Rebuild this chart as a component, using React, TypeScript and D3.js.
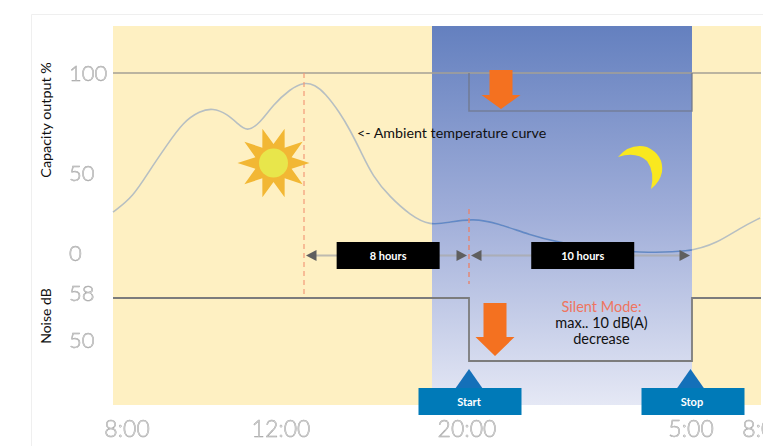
import React from "react";
import * as d3 from "d3";

const W = 763;
const H = 446;

// Data
const curveHours = [8, 8.42, 8.77, 9.13, 9.47, 9.82, 10.09, 10.39, 10.62, 10.81, 11.08, 11.35, 11.71, 12, 12.53, 13.02, 13.75, 14.23, 14.72, 15.35, 16.17, 17.14, 18.11, 19.08, 20.16, 21.13, 22.46, 23.55, 25.3, 26.8, 28.9, 30.09, 31.09, 31.96];
const curveCapacity = [25.6, 35, 51.5, 64, 75.5, 81, 82.5, 79.5, 74.5, 70.5, 75, 84, 92, 95.5, 94, 90, 80, 71.5, 61.5, 47.5, 35, 23.75, 17, 19.4, 21.5, 18.75, 11.25, 6.9, 1.9, 0.4, 0.4, 6.25, 15.6, 21.9];
const capacityHours = [20, 20, 29, 29];
const capacityValues = [100, 81, 81, 100];
const noiseHours = [8, 20, 20, 29, 29, 32];
const noiseValues = [58, 58, 48, 48, 58, 58];
const capacityTicks = [100, 50, 0];
const noiseTicks = [58, 50];
const timeTicks = [8, 12, 20, 29, 32];
const timeLabels = ["8:00", "12:00", "20:00", "5:00", "8:00"];
const spans = [
  { from: 12, to: 20, label: "8 hours" },
  { from: 20, to: 29, label: "10 hours" },
];
const markers = [
  { hour: 20, label: "Start" },
  { hour: 29, label: "Stop" },
];

// Scales (the original is a schematic, so they are piecewise)
const x = d3.scaleLinear().domain([8, 12, 20, 29, 32]).range([113, 304, 469, 692, 761]);
const xLabel = d3.scaleLinear().domain([8, 12, 20, 29, 32]).range([127, 281, 467, 691, 765]);
const yCap = d3.scaleLinear().domain([0, 50, 100]).range([253, 173, 73]);
const yNoise = d3.scaleLinear().domain([48, 50, 58]).range([361, 340, 298]);

const curvePath = d3.line<number>()
  .x((h) => x(h))
  .y((_, i) => yCap(curveCapacity[i]))
  .curve(d3.curveBasis)(curveHours) as string;
const capPath = d3.line<number>().x((h) => x(h)).y((_, i) => yCap(capacityValues[i]))(capacityHours) as string;
const noisePath = d3.line<number>().x((h) => x(h)).y((_, i) => yNoise(noiseValues[i]))(noiseHours) as string;

const sunRays = d3.lineRadial<number>()
  .angle((_, i) => Math.PI / 2 + (i * Math.PI) / 10)
  .radius((_, i) => (i % 2 === 0 ? 36 : 19))
  .curve(d3.curveLinearClosed)(d3.range(20)) as string;

const FONT = "Lato, 'Open Sans', sans-serif";
const TICK = { fill: "#e4e4e4", stroke: "#a0a0a0", strokeWidth: 0.5, fontFamily: FONT, fontWeight: 300, fontSize: 22, filter: "url(#soft)" } as const;

function DownArrow({ cx, top, neck, tip }: { cx: number; top: number; neck: number; tip: number }) {
  return (
    <path
      d={`M${cx - 11.5},${top}H${cx + 11.5}V${neck}H${cx + 19.5}L${cx},${tip}L${cx - 19.5},${neck}H${cx - 11.5}Z`}
      fill="#f47120"
    />
  );
}

export default function App() {
  return (
    <svg width={W} height={H} style={{ position: "absolute", left: 0, top: 0, background: "#fff" }}>
      <defs>
        <linearGradient id="night" x1="0" y1="0" x2="0" y2="1">
          <stop offset="0" stopColor="#6480bf" />
          <stop offset="0.5" stopColor="#a0aed9" />
          <stop offset="1" stopColor="#e5e8f5" />
        </linearGradient>
        <clipPath id="nightClip">
          <rect x={432} y={26} width={260} height={379} />
        </clipPath>
        <filter id="soft" x="-10%" y="-10%" width="120%" height="120%">
          <feGaussianBlur stdDeviation="0.35" />
        </filter>
      </defs>

      {/* frame */}
      <path d="M31.5,446V14.5H763" fill="none" stroke="#efefef" />

      {/* day / night bands */}
      <rect x={113} y={26} width={648} height={379} fill="#fef0c2" />
      <rect x={432} y={26} width={260} height={379} fill="url(#night)" />

      {/* ambient curve */}
      <path d={curvePath} fill="none" stroke="#b7bfc2" strokeWidth={1.6} />
      <path d={curvePath} fill="none" stroke="#6288c8" strokeWidth={1.6} clipPath="url(#nightClip)" />

      {/* full capacity and noise lines */}
      <path d={`M${x(8)},${yCap(100)}H${x(32)}`} fill="none" stroke="#a5a195" strokeWidth={1.3} />
      <path d={capPath} fill="none" stroke="#6f7587" strokeOpacity={0.75} strokeWidth={1.6} />
      <path d={noisePath} fill="none" stroke="#7c7c7c" strokeWidth={1.8} />

      {/* dashed guides */}
      <line x1={x(12)} x2={x(12)} y1={73} y2={298} stroke="#f29a78" strokeWidth={1.2} strokeDasharray="5 4" />
      <line x1={x(20)} x2={x(20)} y1={209} y2={284} stroke="#e5846f" strokeWidth={1.4} strokeDasharray="5 4" />

      {/* duration spans */}
      {spans.map((s) => {
        const a = x(s.from);
        const b = x(s.to);
        const c = a + (b - a) * 0.51;
        return (
          <g key={s.label}>
            <line x1={a + 10} x2={b - 10} y1={255.5} y2={255.5} stroke="#a9a9a9" strokeOpacity={0.75} strokeWidth={2} />
            <path d={`M${a + 2},255.5L${a + 12.5},250V261Z`} fill="#5f5f5f" />
            <path d={`M${b - 2},255.5L${b - 12.5},250V261Z`} fill="#5f5f5f" />
            <rect x={c - 51.5} y={242} width={103} height={27} fill="#000" />
            <text x={c} y={259.5} textAnchor="middle" fill="#fff" fontFamily={FONT} fontWeight={700} fontSize={11}>{s.label}</text>
          </g>
        );
      })}

      {/* sun */}
      <g transform="translate(273.5,163)">
        <path d={sunRays} fill="#f2b734" />
        <circle r={14.5} fill="#e8e64b" />
      </g>

      {/* moon */}
      <path d="M618,157Q630,143 647,147Q664,155 662,172Q660,182 651,189Q655,172 647,161Q636,151 618,157Z" fill="#f9e81f" />

      {/* arrows */}
      <DownArrow cx={501} top={70} neck={95} tip={109} />
      <DownArrow cx={495} top={303} neck={337} tip={356} />

      {/* annotations */}
      <text x={357} y={138} fill="#111" fontFamily={FONT} fontSize={14.25}>{"<- Ambient temperature curve"}</text>
      <g textAnchor="middle" fontFamily={FONT} fontSize={14.5}>
        <text x={601.5} y={312} fill="#ef7560">Silent Mode:</text>
        <text x={601.5} y={328} fill="#111">max.. 10 dB(A)</text>
        <text x={601.5} y={344} fill="#111">decrease</text>
      </g>

      {/* start / stop */}
      {markers.map((m) => {
        const tipX = x(m.hour) - (m.hour === 29 ? 1.5 : 0);
        const boxX = x(m.hour) + 1;
        return (
          <g key={m.label}>
            <path d={`M${tipX},369L${tipX + 14},389H${tipX - 14}Z`} fill="#1470b9" />
            <rect x={boxX - 51.5} y={388} width={103} height={27} fill="#007ab8" />
            <text x={boxX - 1} y={405.5} textAnchor="middle" fill="#fff" fontFamily={FONT} fontWeight={700} fontSize={11}>{m.label}</text>
          </g>
        );
      })}

      {/* axis titles */}
      <text transform="translate(51,120) rotate(-90)" textAnchor="middle" fill="#111" fontFamily={FONT} fontSize={14.3}>Capacity output %</text>
      <text transform="translate(51,316) rotate(-90)" textAnchor="middle" fill="#111" fontFamily={FONT} fontSize={14}>Noise dB</text>

      {/* tick labels */}
      {capacityTicks.map((t) => (
        <text key={`c${t}`} x={69} y={yCap(t)} dy="0.36em" {...TICK}>{t}</text>
      ))}
      {noiseTicks.map((t) => (
        <text key={`n${t}`} x={69} y={t === 58 ? 293 : yNoise(t)} dy="0.36em" {...TICK}>{t}</text>
      ))}
      {timeTicks.map((t, i) => (
        <text key={`t${i}`} x={xLabel(t)} y={429} dy="0.36em" textAnchor="middle" {...TICK} fontSize={23}>{timeLabels[i]}</text>
      ))}
    </svg>
  );
}
